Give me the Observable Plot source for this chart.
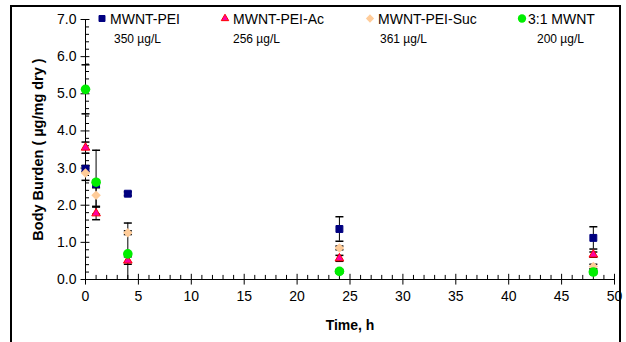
<!DOCTYPE html>
<html><head><meta charset="utf-8">
<script src="https://cdn.jsdelivr.net/npm/d3@7"></script>
<script src="https://cdn.jsdelivr.net/npm/@observablehq/plot@0.6"></script>
<style>
body{margin:0;background:#fff;font-family:"Liberation Sans",Arial,sans-serif;}
#wrap{position:relative;width:626px;height:342px;overflow:hidden;background:#fff;}
#border{position:absolute;left:10px;top:5px;width:607px;height:400px;border:2px solid #000;pointer-events:none;}
#legend{position:absolute;left:0;top:0;pointer-events:none;}
</style></head><body>
<div id="wrap"><div id="chart"></div><svg id="legend" width="626" height="60"></svg><div id="border"></div></div>
<script>
const times = [0, 1, 4, 24, 48];
const seriesNames = ["MWNT-PEI", "MWNT-PEI-Ac", "MWNT-PEI-Suc", "3:1 MWNT"];
const concentrations = ["350 µg/L", "256 µg/L", "361 µg/L", "200 µg/L"];
const peiValues    = [2.98, 2.57, 2.31, 1.36, 1.12];
const peiErrors    = [0.08, 0.10, 0.05, 0.33, 0.30];
const peiAcValues  = [3.55, 1.78, 0.51, 0.57, 0.67];
const peiAcErrors  = [0.15, 0.17, 0.10, 0.08, 0.07];
const peiSucValues = [2.87, 2.27, 1.26, 0.85, 0.35];
const peiSucErrors = [0.20, 0.30, 0.05, 0.05, 0.06];
const mwntValues   = [5.12, 2.62, 0.69, 0.22, 0.20];
const mwntErrors   = [0.66, 0.86, 0.83, 0.05, 0.05];
const xTickLabels = [0, 5, 10, 15, 20, 25, 30, 35, 40, 45, 50];
const yTickLabels = [0, 1, 2, 3, 4, 5, 6, 7];
const xLabel = "Time, h";
const yLabel = "Body Burden ( µg/mg dry )";

const values = [peiValues, peiAcValues, peiSucValues, mwntValues];
const errors = [peiErrors, peiAcErrors, peiSucErrors, mwntErrors];
const styles = [
  {symbol: "square", fill: "#000080", stroke: "#000080", r: 3.9},
  {symbol: "triangle", fill: "#ff00a0", stroke: "#ff0000", r: 3.2},
  {symbol: "diamond2", fill: "#ffcc99", stroke: "none", r: 4.3},
  {symbol: "circle", fill: "#00ee00", stroke: "none", r: 4.8}
];

const rows = [];
seriesNames.forEach((name, i) => times.forEach((t, j) =>
  rows.push({series: name, idx: i, time: t, value: values[i][j], err: errors[i][j]})));

const capSymbol = {draw(ctx, size) { const w = Math.sqrt(size) / 2; ctx.moveTo(-w, 0); ctx.lineTo(w, 0); }};
const capR = Math.sqrt(64 / Math.PI);

const yMinor = d3.range(0, 7.001, 0.2).filter(v => Math.abs(v - Math.round(v)) > 1e-6);
const xMinor = d3.range(0, 50.001, 1).filter(v => v % 5 !== 0);

const marks = [
  Plot.ruleX([0], {y1: 0, y2: 7, stroke: "#000"}),
  Plot.ruleY([0], {x1: 0, x2: 50, stroke: "#000"}),
  Plot.ruleY(yMinor, {y: d => d, x1: 0, x2: 0.38, stroke: "#000"}),
  Plot.ruleY(yTickLabels, {y: d => d, x1: -0.42, x2: 0.42, stroke: "#000"}),
  Plot.ruleX(xMinor, {x: d => d, y1: 0, y2: 0.11, stroke: "#000"}),
  Plot.ruleX(xTickLabels, {x: d => d, y1: -0.15, y2: 0.14, stroke: "#000"}),
  Plot.axisY({ticks: yTickLabels, tickSize: 0, tickPadding: 9, tickFormat: d => d.toFixed(1), label: null, fontSize: 14}),
  Plot.axisX({ticks: xTickLabels, tickSize: 0, tickPadding: 12, tickFormat: d => String(d), label: null, fontSize: 14}),
  Plot.ruleX(rows, {x: "time", y1: d => Math.max(0, d.value - d.err), y2: d => d.value + d.err, stroke: "#000"}),
  Plot.dot(rows, {x: "time", y: d => d.value + d.err, symbol: capSymbol, r: capR, stroke: "#000", fill: "none"}),
  Plot.dot(rows.filter(d => d.value - d.err > 0), {x: "time", y: d => d.value - d.err, symbol: capSymbol, r: capR, stroke: "#000", fill: "none"}),
  ...styles.map((s, i) => Plot.dot(rows.filter(d => d.idx === i), {x: "time", y: "value", symbol: s.symbol, r: s.r, fill: s.fill, stroke: s.stroke, strokeWidth: 1})),
  Plot.text([xLabel], {text: d => d, frameAnchor: "bottom", dy: 50, fontWeight: "bold", fontSize: 14}),
  Plot.text([yLabel], {text: d => d, frameAnchor: "left", textAnchor: "middle", dx: -47, rotate: -90, fontWeight: "bold", fontSize: 14.5})
];

const chart = Plot.plot({
  width: 626, height: 342,
  marginLeft: 85, marginRight: 12, marginTop: 19, marginBottom: 63,
  x: {type: "linear", domain: [0, 50]},
  y: {type: "linear", domain: [0, 7]},
  style: {fontFamily: "'Liberation Sans', Arial, sans-serif", fontSize: "13px", color: "#000", background: "#fff", overflow: "visible"},
  marks
});
document.getElementById("chart").appendChild(chart);

// legend inside the plot area
const leg = d3.select("#legend");
const markerX = [102, 225, 370, 522];
const textX = [110, 233, 378, 528];
const concX = [114, 233, 380, 537];
seriesNames.forEach((name, i) => {
  const s = styles[i];
  const sym = {square: d3.symbolSquare, triangle: d3.symbolTriangle, diamond2: d3.symbolDiamond2, circle: d3.symbolCircle}[s.symbol];
  const size = Math.PI * s.r * s.r * 0.75;
  leg.append("path").attr("d", d3.symbol(sym, size)()).attr("transform", `translate(${markerX[i]},18.5)`)
    .attr("fill", s.fill).attr("stroke", s.stroke);
  leg.append("text").attr("x", textX[i]).attr("y", 23.5).attr("font-size", 14).text(name);
  leg.append("text").attr("x", concX[i]).attr("y", 43.3).attr("font-size", 12).text(concentrations[i]);
});
</script>
</body></html>
